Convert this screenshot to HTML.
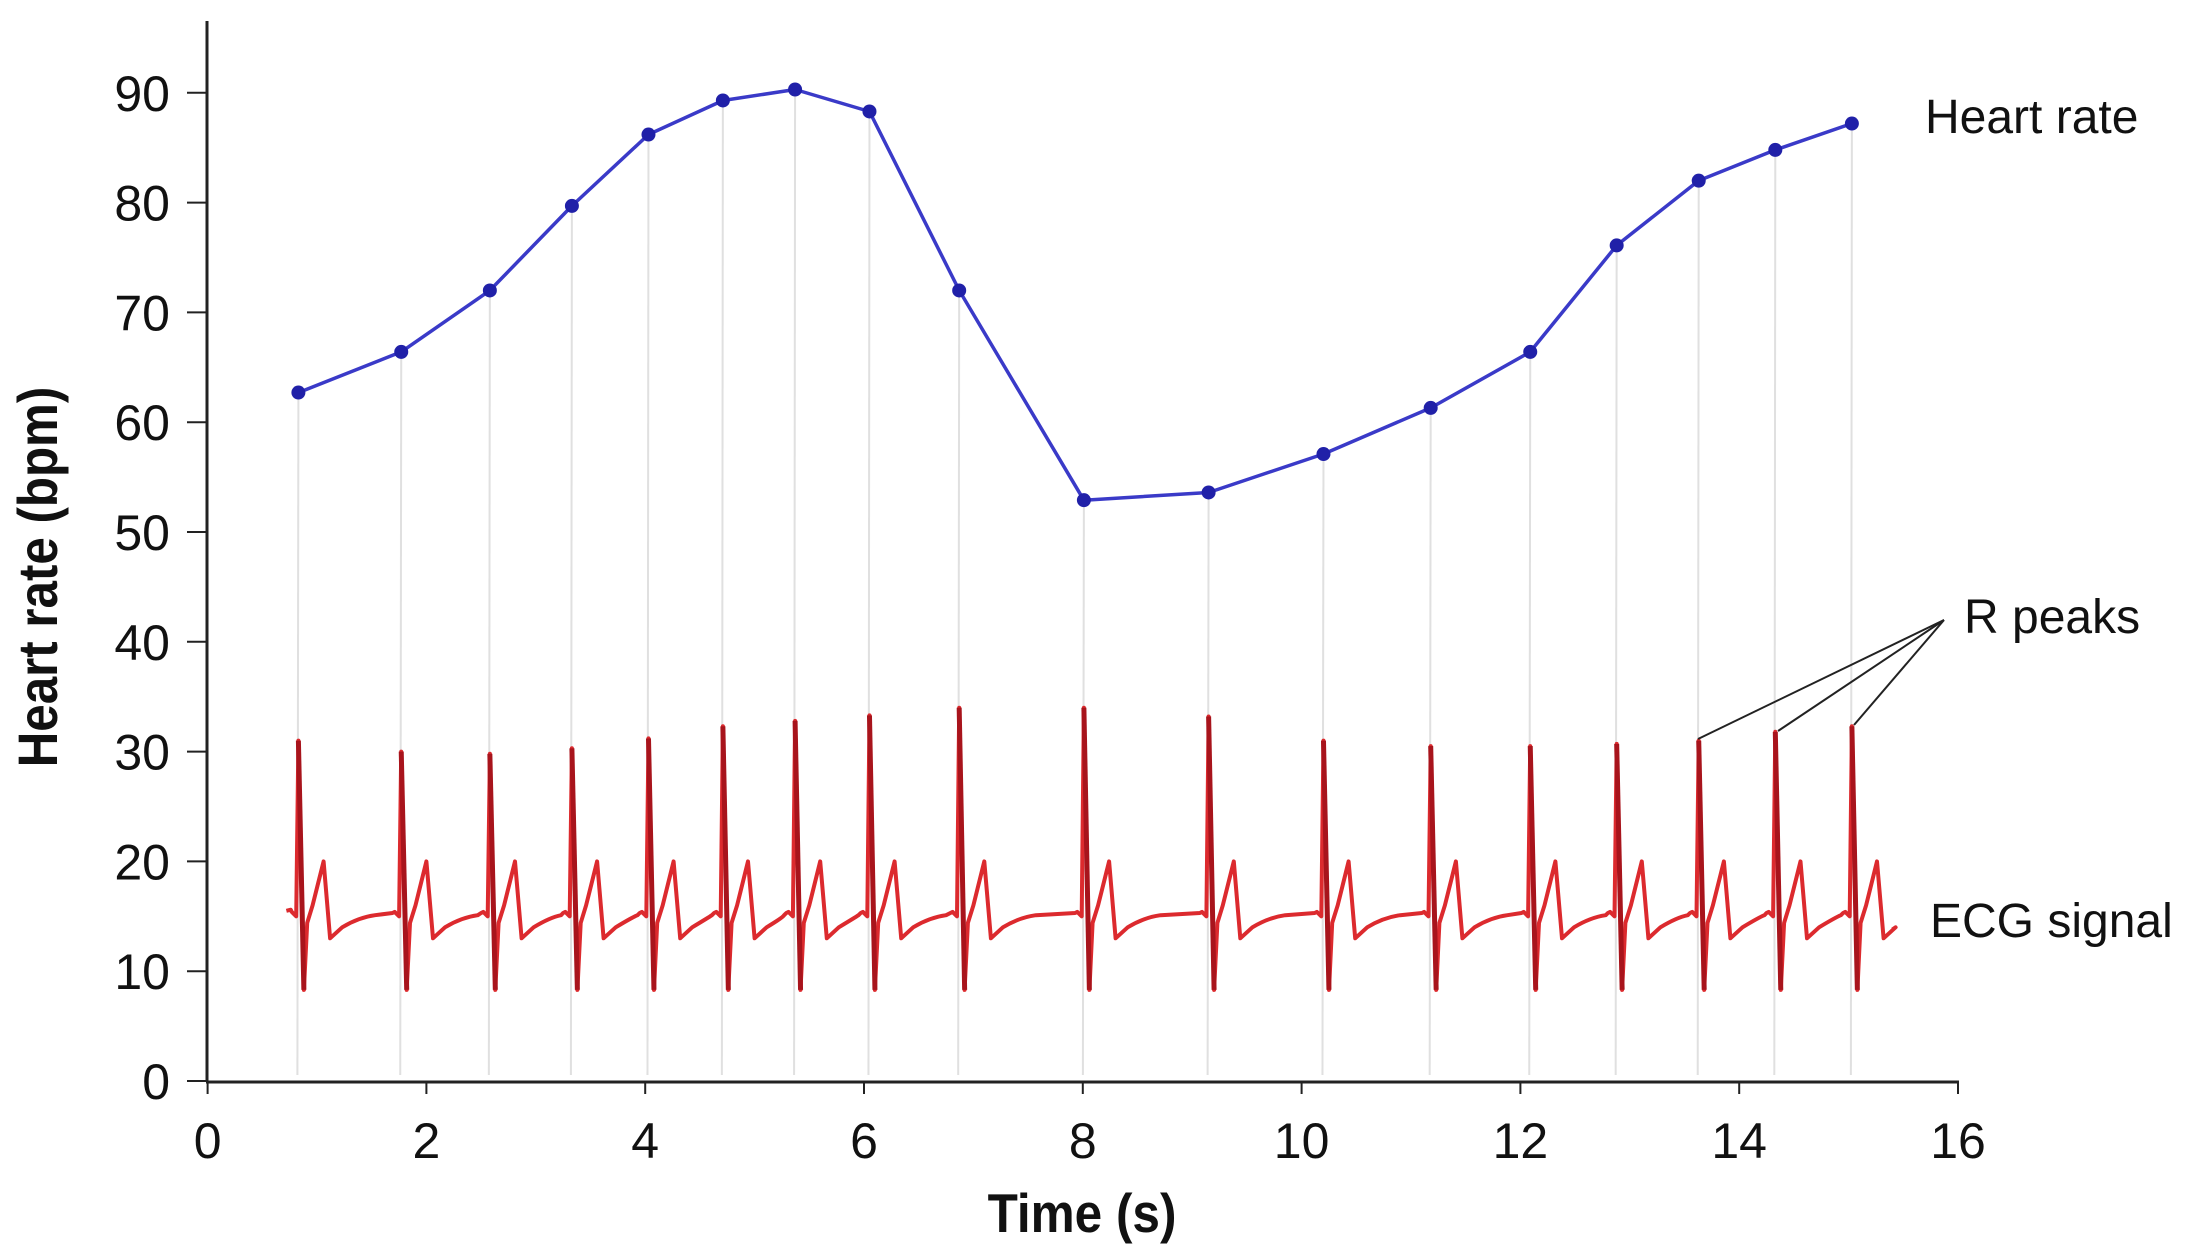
<!DOCTYPE html>
<html><head><meta charset="utf-8"><style>
html,body{margin:0;padding:0;background:#fff}
svg{display:block}
text{font-family:"Liberation Sans",sans-serif;fill:#111}
</style></head><body>
<svg id="s" width="2199" height="1259" viewBox="0 0 2199 1259" xmlns="http://www.w3.org/2000/svg">
<g id="grid"></g>
<g id="ecg"></g>
<g id="hr"></g>
<g id="axes" stroke="#222" stroke-width="3" fill="none">
<line x1="207" y1="21" x2="207" y2="1082"/>
<line x1="206" y1="1082" x2="1959" y2="1082"/>
</g>
<g id="ticks"></g>
<text x="0" y="0" font-size="56" font-weight="bold" text-anchor="middle" transform="translate(57,577) rotate(-90) scale(0.88,1)">Heart rate (bpm)</text>
<text x="0" y="0" font-size="55" font-weight="bold" text-anchor="middle" transform="translate(1082,1232) scale(0.9,1)">Time (s)</text>
<text x="1925" y="133" font-size="48">Heart rate</text>
<text x="1964" y="633" font-size="48">R peaks</text>
<text x="1930" y="937" font-size="48">ECG signal</text>
<g stroke="#222" stroke-width="2">
<line x1="1944" y1="620" x2="1698" y2="739"/>
<line x1="1944" y1="620" x2="1778" y2="731"/>
<line x1="1944" y1="620" x2="1854" y2="725"/>
</g>
</svg>
<script>
const X=t=>207.6+t*109.4, Y=v=>1081-v*10.98;
const ns="http://www.w3.org/2000/svg";
function el(p,tag,a,txt){const e=document.createElementNS(ns,tag);for(const k in a)e.setAttribute(k,a[k]);if(txt!==undefined)e.textContent=txt;document.getElementById(p).appendChild(e);return e;}
const hr=[[0.83,62.7],[1.77,66.4],[2.58,72],[3.33,79.7],[4.03,86.2],[4.71,89.3],[5.37,90.3],[6.05,88.3],[6.87,72],[8.01,52.9],[9.15,53.6],[10.2,57.1],[11.18,61.3],[12.09,66.4],[12.88,76.1],[13.63,82],[14.33,84.8],[15.03,87.2]];
const rh=[31,30,29.8,30.3,31.2,32.3,32.8,33.3,34,34,33.2,31,30.5,30.5,30.7,31,31.8,32.3];
for(let v=0;v<=90;v+=10){el("ticks","line",{x1:187,y1:Y(v),x2:207,y2:Y(v),stroke:"#222","stroke-width":2});el("ticks","text",{x:170,y:Y(v)+18,"font-size":50,"text-anchor":"end"},v);}
for(let t=0;t<=16;t+=2){el("ticks","line",{x1:X(t),y1:1082,x2:X(t),y2:1094,stroke:"#222","stroke-width":2});el("ticks","text",{x:X(t),y:1158,"font-size":50,"text-anchor":"middle"},t);}
hr.forEach(p=>el("grid","line",{x1:X(p[0]),y1:Y(p[1]),x2:X(p[0])-1,y2:1075,stroke:"#e0e0e0","stroke-width":2}));
let d="";
hr.forEach((p,i)=>{const t=p[0];const nx=i<hr.length-1?hr[i+1][0]:15.45;
 const pts=[[t-0.06,15.4],[t-0.02,15],[t,rh[i]],[t+0.05,8.3],[t+0.08,14.4],[t+0.13,16],[t+0.23,20],[t+0.29,13],[t+0.4,14]];
 if(i==0)d+="M"+X(0.72)+","+Y(15.5)+" L"+X(0.76)+","+Y(15.6);
 pts.forEach(q=>d+=" L"+X(q[0]).toFixed(1)+","+Y(q[1]).toFixed(1));
 if(i<hr.length-1){const m=Math.min(t+0.7,nx-0.1);d+=" Q"+X(t+0.55).toFixed(1)+","+Y(14.9).toFixed(1)+" "+X(m).toFixed(1)+","+Y(15.1).toFixed(1)+" L"+X(nx-0.08).toFixed(1)+","+Y(15.3).toFixed(1);}
 else d+=" L"+X(15.4)+","+Y(13.8);
});
el("ecg","path",{d:d,fill:"none",stroke:"#dc2a2e","stroke-width":4,"stroke-linejoin":"round"});
hr.forEach((p,i)=>el("ecg","line",{x1:X(p[0]),y1:Y(rh[i]),x2:X(p[0]+0.05),y2:Y(8.3),stroke:"#a8141c","stroke-width":5}));
let pts=hr.map(p=>[X(p[0]),Y(p[1])]);
el("hr","polyline",{points:pts.map(p=>p[0].toFixed(1)+","+p[1].toFixed(1)).join(" "),fill:"none",stroke:"#3a3ac8","stroke-width":3.5,"stroke-linejoin":"round"});
pts.forEach(p=>el("hr","circle",{cx:p[0],cy:p[1],r:7,fill:"#2020a8"}));
</script>
</body></html>
